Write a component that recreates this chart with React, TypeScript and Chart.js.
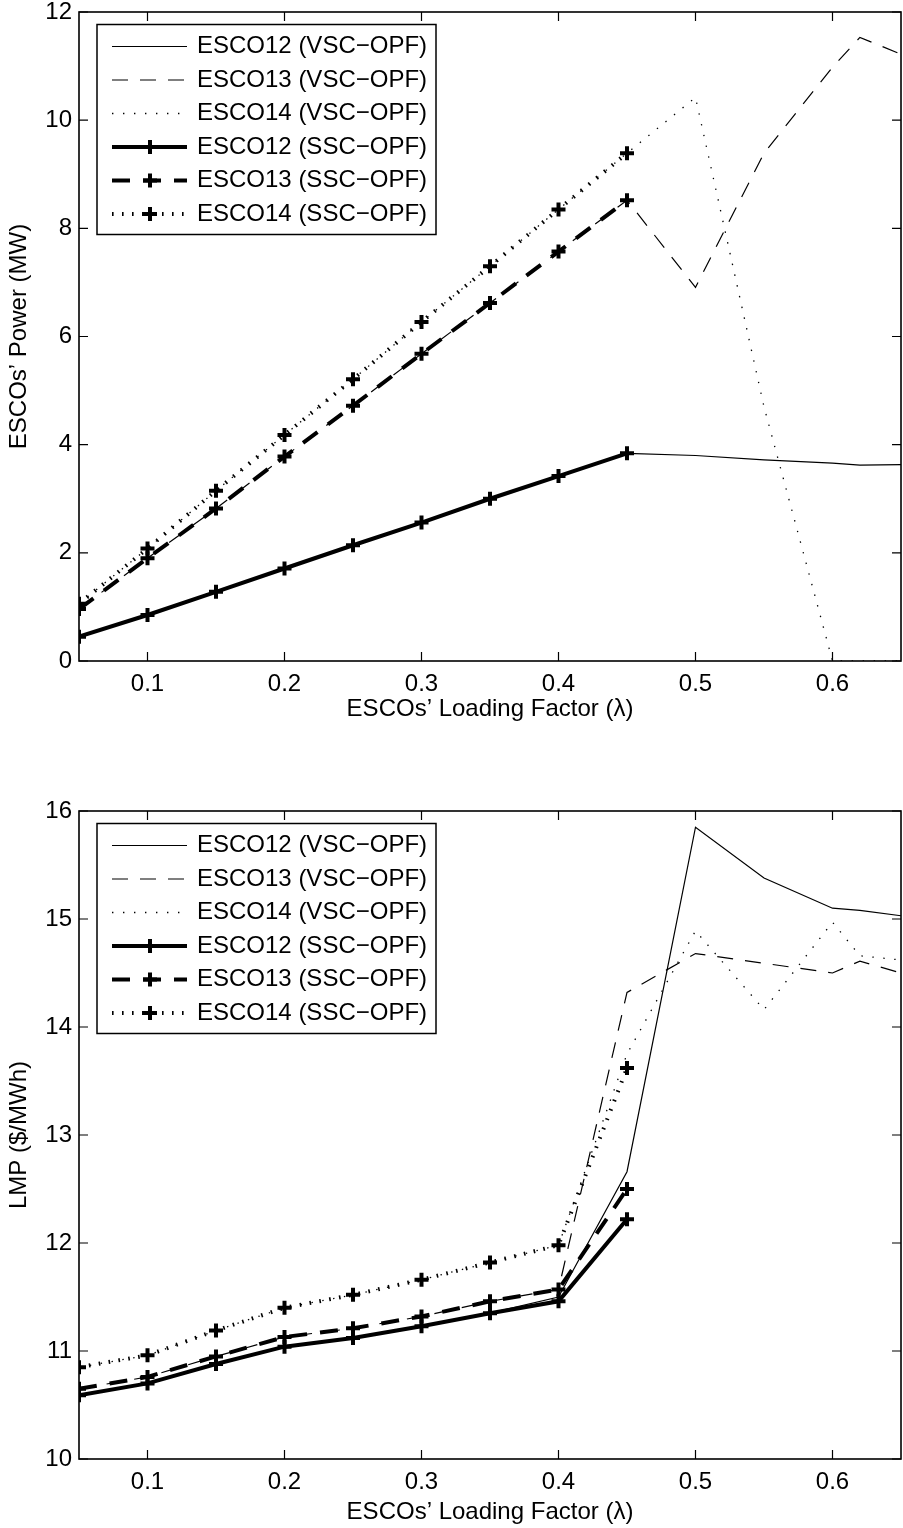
import React, { useEffect, useRef } from "react";
import { Chart, registerables } from "chart.js";

Chart.register(...registerables);

// ---------------- data ----------------
const lambdaVSC = [0.05, 0.1, 0.15, 0.2, 0.25, 0.3, 0.35, 0.4, 0.45, 0.5, 0.55, 0.6, 0.62, 0.65];
const lambdaSSC = [0.05, 0.1, 0.15, 0.2, 0.25, 0.3, 0.35, 0.4, 0.45];
const xTickValues = [0.1, 0.2, 0.3, 0.4, 0.5, 0.6];
const powerTickValues = [0, 2, 4, 6, 8, 10, 12];
const lmpTickValues = [10, 11, 12, 13, 14, 15, 16];

const seriesLabels = [
  "ESCO12 (VSC\u2212OPF)",
  "ESCO13 (VSC\u2212OPF)",
  "ESCO14 (VSC\u2212OPF)",
  "ESCO12 (SSC\u2212OPF)",
  "ESCO13 (SSC\u2212OPF)",
  "ESCO14 (SSC\u2212OPF)",
];

// Top panel: ESCOs' Power (MW)
const powerVSC12 = [0.45, 0.85, 1.28, 1.71, 2.14, 2.56, 3.0, 3.42, 3.84, 3.8, 3.72, 3.66, 3.62, 3.63];
const powerVSC13 = [0.96, 1.9, 2.82, 3.78, 4.72, 5.68, 6.62, 7.57, 8.52, 6.91, 9.39, 10.98, 11.53, 11.22];
const powerVSC14 = [1.06, 2.08, 3.15, 4.18, 5.21, 6.27, 7.3, 8.35, 9.39, 10.42, 4.7, 0, 0, 0];
const powerSSC12 = [0.45, 0.85, 1.28, 1.71, 2.14, 2.56, 3.0, 3.42, 3.84];
const powerSSC13 = [0.96, 1.9, 2.82, 3.78, 4.72, 5.68, 6.62, 7.57, 8.52];
const powerSSC14 = [1.06, 2.08, 3.15, 4.18, 5.21, 6.27, 7.3, 8.35, 9.39];

// Bottom panel: LMP ($/MWh)
const lmpVSC12 = [10.59, 10.7, 10.88, 11.04, 11.12, 11.23, 11.35, 11.5, 12.66, 15.85, 15.38, 15.1, 15.08, 15.03];
const lmpVSC13 = [10.65, 10.76, 10.95, 11.13, 11.21, 11.32, 11.46, 11.57, 14.32, 14.68, 14.59, 14.5, 14.61, 14.5];
const lmpVSC14 = [10.85, 10.96, 11.19, 11.4, 11.52, 11.66, 11.82, 11.98, 13.75, 14.89, 14.16, 14.97, 14.66, 14.62];
const lmpSSC12 = [10.59, 10.7, 10.88, 11.04, 11.12, 11.23, 11.35, 11.46, 12.22];
const lmpSSC13 = [10.65, 10.76, 10.95, 11.13, 11.21, 11.32, 11.46, 11.57, 12.5];
const lmpSSC14 = [10.85, 10.96, 11.19, 11.4, 11.52, 11.66, 11.82, 11.98, 13.62];

const xTitle = "ESCOs\u2019 Loading Factor (\u03bb)";
const powerTitle = "ESCOs\u2019 Power (MW)";
const lmpTitle = "LMP ($/MWh)";

// ---------------- styles ----------------
const FONT = '"Liberation Sans", Arial, Helvetica, sans-serif';
const FS = 24;
const AREA_LEFT = 79;
const AREA_RIGHT = 901;

type LineStyle = { width: number; dash: number[]; marker: boolean };
const styles: LineStyle[] = [
  { width: 1.2, dash: [], marker: false },
  { width: 1.2, dash: [16, 12], marker: false },
  { width: 1.3, dash: [1.4, 9.6], marker: false },
  { width: 4, dash: [], marker: true },
  { width: 4, dash: [18, 13], marker: true },
  { width: 4, dash: [1.6, 8.4], marker: true },
];

function toXY(xs: number[], ys: number[]) {
  return ys.map((y, i) => ({ x: xs[i], y }));
}

function makeDatasets(series: number[][]) {
  return series.map((vals, i) => {
    const st = styles[i];
    const isSSC = i >= 3;
    return {
      label: seriesLabels[i],
      data: toXY(isSSC ? lambdaSSC : lambdaVSC, vals),
      borderColor: "#000",
      backgroundColor: "#000",
      borderWidth: st.width,
      borderDash: st.dash,
      borderCapStyle: "butt" as const,
      borderJoinStyle: "miter" as const,
      pointStyle: "cross" as const,
      pointRadius: st.marker ? 7 : 0,
      pointBorderWidth: 4,
      pointBorderColor: "#000",
      pointHoverRadius: 0,
      tension: 0,
      fill: false,
      order: isSSC ? 0 : 1,
    };
  });
}

// pin the horizontal extent of the plot area
const areaPlugin = {
  id: "areaPin",
  afterLayout(chart: any) {
    const a = chart.chartArea;
    a.left = AREA_LEFT;
    a.right = AREA_RIGHT;
    a.width = AREA_RIGHT - AREA_LEFT;
    const x = chart.scales.x;
    x.left = AREA_LEFT;
    x.right = AREA_RIGHT;
    x.width = AREA_RIGHT - AREA_LEFT;
    x.configure();
    x._labelItems = null;
    x._gridLineItems = null;
  },
};

const framePlugin = {
  id: "matlabFrame",
  afterDraw(chart: any) {
    const { ctx, chartArea: a, scales } = chart;
    const xs = scales.x;
    const ys = scales.y;
    ctx.save();
    ctx.strokeStyle = "#000";
    ctx.setLineDash([]);
    ctx.lineWidth = 1.2;
    const TL = 9;
    ctx.beginPath();
    for (const t of xs.ticks) {
      const px = xs.getPixelForValue(t.value);
      ctx.moveTo(px, a.bottom);
      ctx.lineTo(px, a.bottom - TL);
      ctx.moveTo(px, a.top);
      ctx.lineTo(px, a.top + TL);
    }
    for (const t of ys.ticks) {
      const py = ys.getPixelForValue(t.value);
      ctx.moveTo(a.left, py);
      ctx.lineTo(a.left + TL, py);
      ctx.moveTo(a.right, py);
      ctx.lineTo(a.right - TL, py);
    }
    ctx.stroke();
    ctx.lineWidth = 1.6;
    ctx.strokeRect(a.left, a.top, a.right - a.left, a.bottom - a.top);

    // legend
    const bx = a.left + 18;
    const by = a.top + 12.5;
    const bw = 339;
    const bh = 210;
    ctx.fillStyle = "#fff";
    ctx.fillRect(bx, by, bw, bh);
    ctx.lineWidth = 1.5;
    ctx.strokeRect(bx, by, bw, bh);
    ctx.font = `${FS}px ${FONT}`;
    ctx.textBaseline = "middle";
    ctx.textAlign = "left";
    chart.data.datasets.forEach((ds: any, i: number) => {
      const st = styles[i];
      const ry = by + 22 + i * 33.5;
      ctx.save();
      ctx.strokeStyle = "#000";
      ctx.lineWidth = st.width;
      ctx.lineCap = "butt";
      ctx.setLineDash(st.dash);
      ctx.beginPath();
      ctx.moveTo(bx + 15, ry);
      ctx.lineTo(bx + 90, ry);
      ctx.stroke();
      ctx.restore();
      if (st.marker) {
        ctx.save();
        ctx.setLineDash([]);
        ctx.lineWidth = 4;
        ctx.strokeStyle = "#000";
        const mx = bx + 53;
        ctx.beginPath();
        ctx.moveTo(mx - 7, ry);
        ctx.lineTo(mx + 7, ry);
        ctx.moveTo(mx, ry - 7);
        ctx.lineTo(mx, ry + 7);
        ctx.stroke();
        ctx.restore();
      }
      ctx.fillStyle = "#000";
      ctx.fillText(ds.label, bx + 100, ry);
    });
    ctx.restore();
  },
};

type PanelProps = {
  series: number[][];
  yTicks: number[];
  yTitle: string;
  padTop: number;
  xAxisHeight: number;
  xTitlePadBottom: number;
  top: number;
  height: number;
};

function Panel(p: PanelProps) {
  const ref = useRef<HTMLCanvasElement | null>(null);
  useEffect(() => {
    if (!ref.current) return;
    const chart = new Chart(ref.current, {
      type: "line",
      data: { datasets: makeDatasets(p.series) as any },
      options: {
        animation: false,
        responsive: false,
        devicePixelRatio: 1,
        events: [],
        layout: { padding: { top: p.padTop, right: 2, left: 0, bottom: 0 } },
        plugins: { legend: { display: false }, tooltip: { enabled: false } },
        scales: {
          x: {
            type: "linear",
            min: 0.05,
            max: 0.65,
            grid: { display: false, drawTicks: false },
            border: { display: false },
            afterBuildTicks: (scale: any) => {
              scale.ticks = xTickValues.map((v) => ({ value: v }));
            },
            afterFit: (scale: any) => {
              scale.height = p.xAxisHeight;
              scale.paddingLeft = 0;
              scale.paddingRight = 0;
            },
            ticks: {
              padding: 9,
              color: "#000",
              font: { family: FONT, size: FS },
              maxRotation: 0,
              autoSkip: false,
              callback: (v: any) => Number(v).toFixed(1),
            },
            title: {
              display: true,
              text: xTitle,
              color: "#000",
              font: { family: FONT, size: FS },
              padding: { top: 0, bottom: p.xTitlePadBottom },
            },
          },
          y: {
            type: "linear",
            min: p.yTicks[0],
            max: p.yTicks[p.yTicks.length - 1],
            grid: { display: false, drawTicks: false },
            border: { display: false },
            afterBuildTicks: (scale: any) => {
              scale.ticks = p.yTicks.map((v) => ({ value: v }));
            },
            afterFit: (scale: any) => {
              scale.width = AREA_LEFT;
              scale.paddingTop = 0;
              scale.paddingBottom = 0;
            },
            ticks: {
              padding: 7,
              color: "#000",
              font: { family: FONT, size: FS },
              autoSkip: false,
              callback: (v: any) => String(v),
            },
            title: {
              display: true,
              text: p.yTitle,
              color: "#000",
              font: { family: FONT, size: FS },
              padding: { top: 5, bottom: 0 },
            },
          },
        },
      },
      plugins: [areaPlugin, framePlugin],
    });
    return () => chart.destroy();
  }, []);
  return (
    <canvas
      ref={ref}
      width={903}
      height={p.height}
      style={{ position: "absolute", left: 0, top: p.top, width: 903, height: p.height }}
    />
  );
}

export default function App() {
  return (
    <div style={{ position: "absolute", left: 0, top: 0, width: 903, height: 1528, background: "#fff" }}>
      <Panel
        series={[powerVSC12, powerVSC13, powerVSC14, powerSSC12, powerSSC13, powerSSC14]}
        yTicks={powerTickValues}
        yTitle={powerTitle}
        padTop={12}
        xAxisHeight={103}
        xTitlePadBottom={40}
        top={0}
        height={764}
      />
      <Panel
        series={[lmpVSC12, lmpVSC13, lmpVSC14, lmpSSC12, lmpSSC13, lmpSSC14]}
        yTicks={lmpTickValues}
        yTitle={lmpTitle}
        padTop={47}
        xAxisHeight={69}
        xTitlePadBottom={1.5}
        top={764}
        height={764}
      />
    </div>
  );
}
